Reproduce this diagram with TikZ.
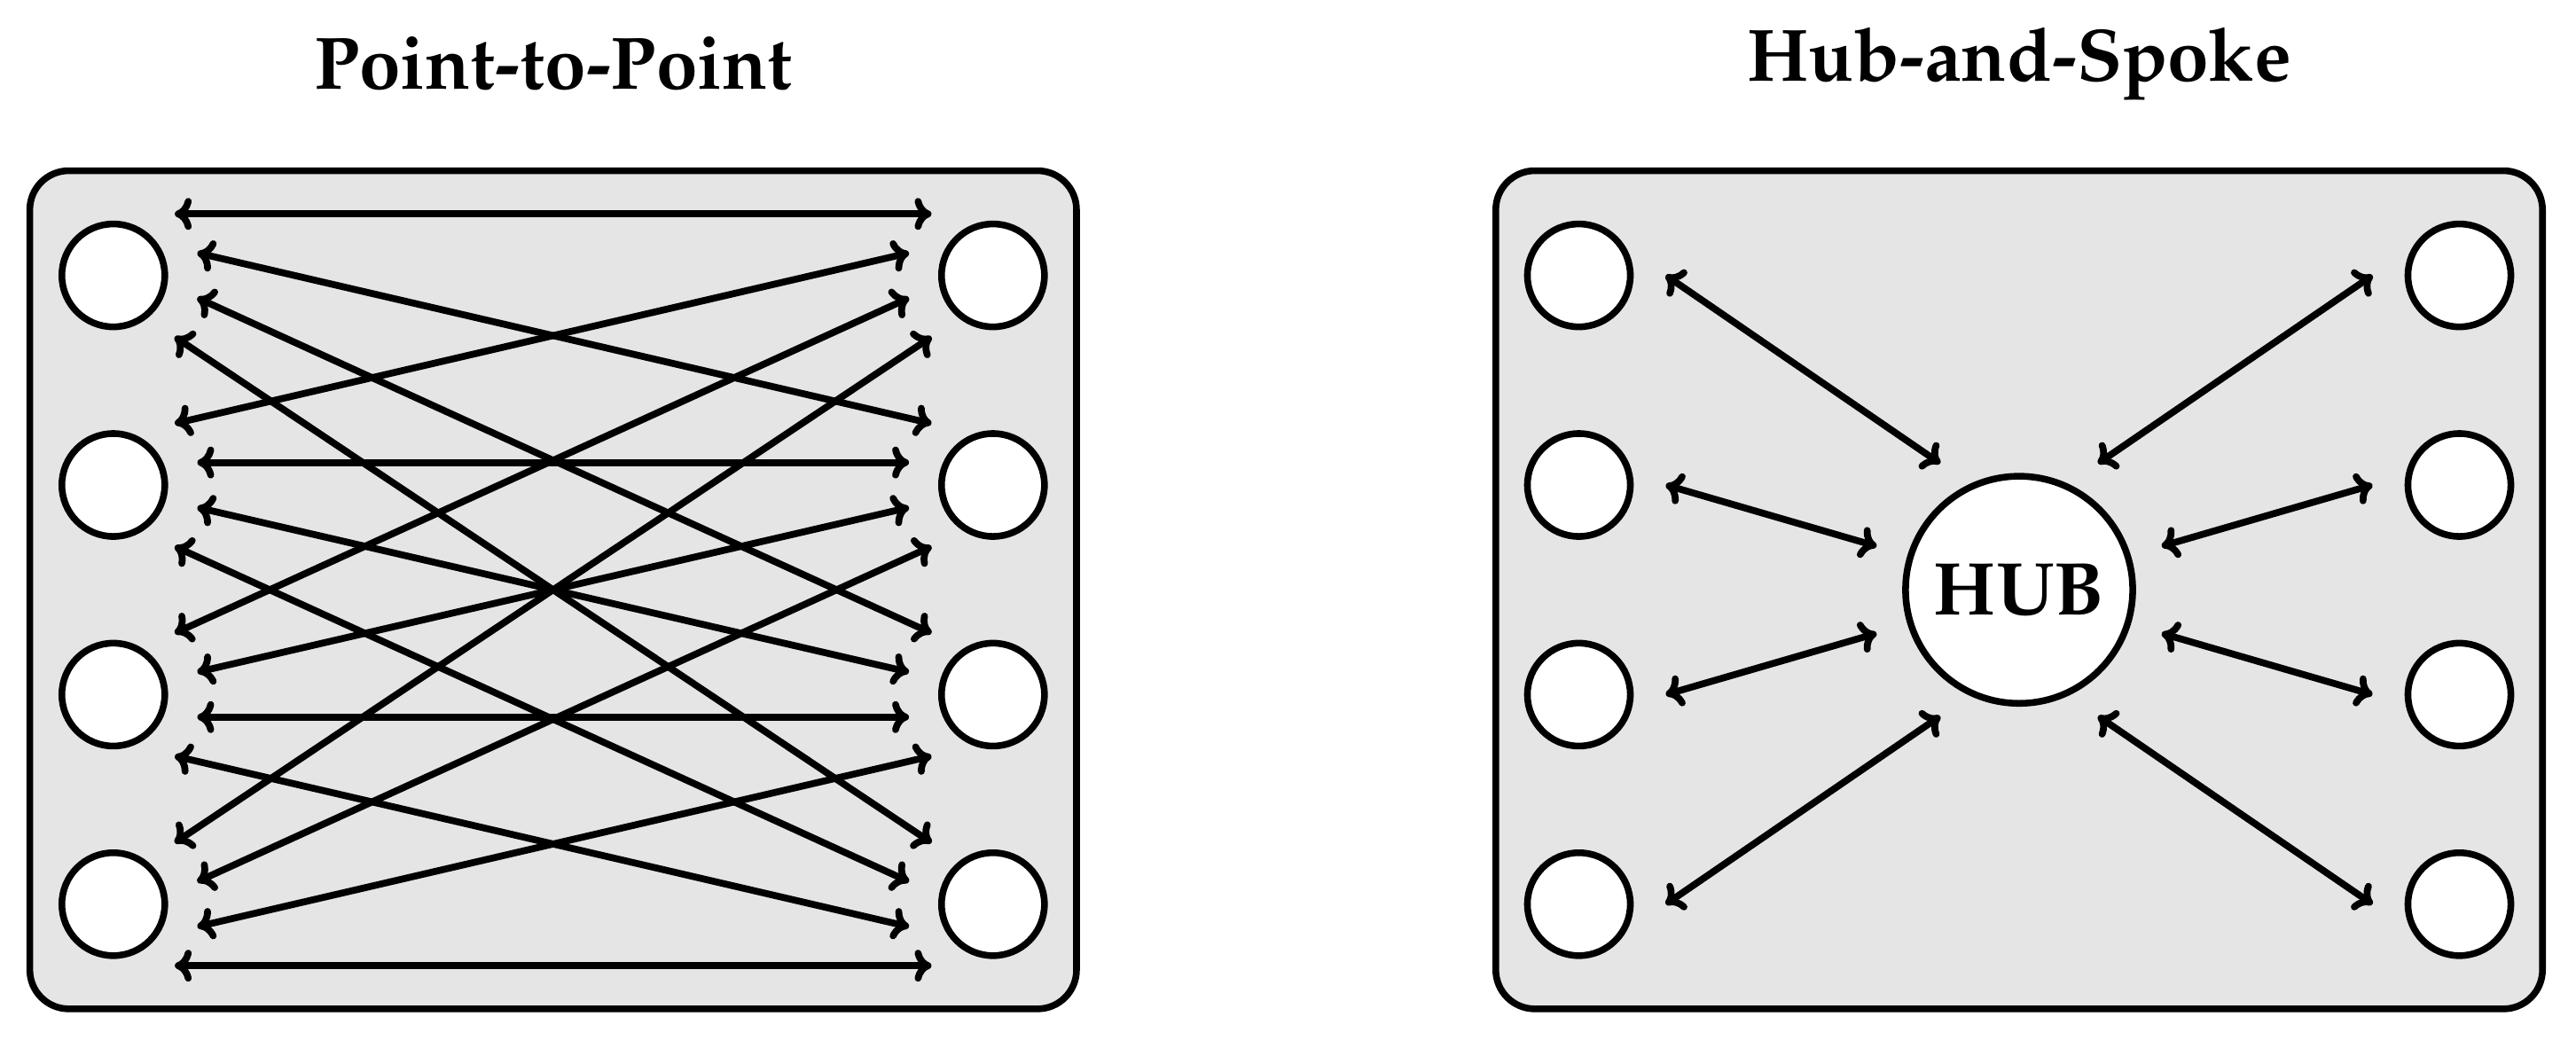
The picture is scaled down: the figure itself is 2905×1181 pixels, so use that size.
\documentclass[tikz,border=0pt]{standalone}
\IfFileExists{t1ppl.fd}{\usepackage[T1]{fontenc}\renewcommand{\rmdefault}{ppl}}{\usepackage{fontspec}\setmainfont{Liberation Serif}}
\usetikzlibrary{arrows.meta,calc}
\begin{document}
\begin{tikzpicture}[x=0.01cm,y=-0.01cm,
  panel/.style={draw, line width=2.15pt, fill=black!10, rounded corners=0.44cm, minimum width=11.797cm, minimum height=9.448cm, inner sep=0pt},
  peer/.style={circle, draw, line width=2.15pt, fill=white, minimum size=1.16cm, inner sep=0pt, outer sep=0.40cm},
  hubnode/.style={circle, draw, line width=2.15pt, fill=white, minimum size=2.56cm, inner sep=0pt, outer sep=0.40cm, font=\fontsize{24pt}{28pt}\selectfont\bfseries},
  link/.style={line width=2.2pt, {Computer Modern Rightarrow[length=1.9mm,width=3.6mm]}-{Computer Modern Rightarrow[length=1.9mm,width=3.6mm]}},
  title/.style={font=\fontsize{23.8pt}{28pt}\selectfont\bfseries}]
\useasboundingbox (0,0) rectangle (2905,1181);
% titles
\node[title] (t1) at (623.8,72) {Point-to-Point};
\node[title] (t2) at (2277,72) {Hub-and-Spoke};
% panels
\node[panel] (P1) at (623.8,665.2) {};
\node[panel] (P2) at (2277,665.2) {};
% point-to-point nodes
\foreach \k/\y in {1/310.6,2/547,3/783.4,4/1019.8}{
  \node[peer] (L\k) at (127.8,\y) {};
  \node[peer] (R\k) at (1119.8,\y) {};
}
\foreach \i/\ra in {1/135,2/165,3/195,4/225}{
  \foreach \j/\la in {1/45,2/15,3/-15,4/-45}{
    \draw[link] (L\i.\la) -- (R\j.\ra);
  }
}
% hub-and-spoke nodes
\node[hubnode] (HUB) at (2277,665.2) {HUB};
\foreach \k/\y in {1/310.6,2/547,3/783.4,4/1019.8}{
  \node[peer] (H\k) at (1780.5,\y) {};
  \node[peer] (G\k) at (2773.5,\y) {};
}
\draw[link] (H1.east) -- (HUB.122);
\draw[link] (H2.east) -- (HUB.163);
\draw[link] (H3.east) -- (HUB.197);
\draw[link] (H4.east) -- (HUB.238);
\draw[link] (G1.west) -- (HUB.58);
\draw[link] (G2.west) -- (HUB.17);
\draw[link] (G3.west) -- (HUB.-17);
\draw[link] (G4.west) -- (HUB.-58);
\end{tikzpicture}
\end{document}
